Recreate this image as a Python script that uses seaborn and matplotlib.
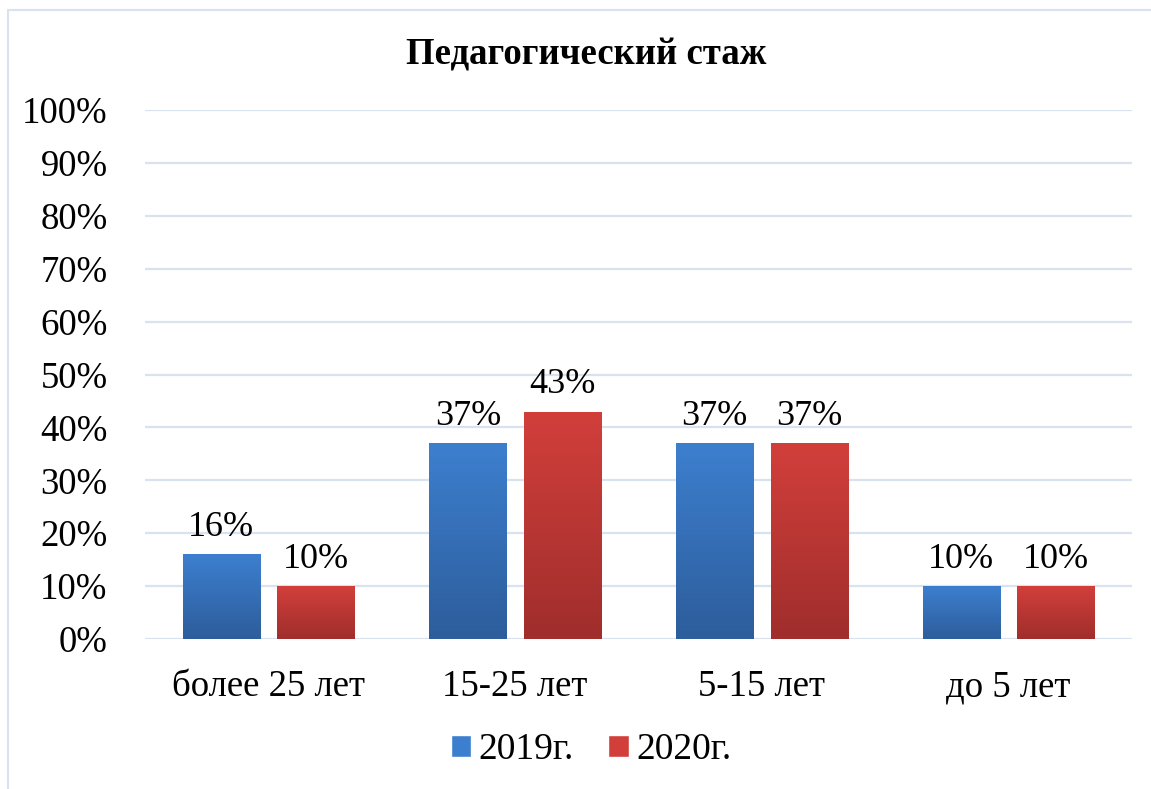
import numpy as np
import pandas as pd
import matplotlib
matplotlib.use("Agg")
import matplotlib.pyplot as plt
import seaborn as sns
from matplotlib.colors import LinearSegmentedColormap
from matplotlib.patches import Rectangle

categories = ["более 25 лет", "15-25 лет", "5-15 лет", "до 5 лет"]
years = ["2019г.", "2020г."]
values_2019 = [16, 37, 37, 10]
values_2020 = [10, 43, 37, 10]

df = pd.DataFrame({
    "Стаж": categories * 2,
    "Год": [years[0]] * 4 + [years[1]] * 4,
    "Доля": values_2019 + values_2020,
})

# top / bottom colours of the gradient fills
grad = {
    years[0]: ("#3d7fcf", "#2d5d9b"),
    years[1]: ("#d23f3b", "#9f2e2c"),
}

sns.set_style("white")
plt.rcParams["font.family"] = ["Liberation Serif", "DejaVu Serif"]
plt.rcParams["text.color"] = "black"
plt.rcParams["xtick.color"] = "black"
plt.rcParams["ytick.color"] = "black"

fig = plt.figure(figsize=(11.51, 7.89), dpi=100)
ax = fig.add_axes([145 / 1151, 1 - 639 / 789, (1132 - 145) / 1151, (639 - 110) / 789])

sns.barplot(data=df, x="Стаж", y="Доля", hue="Год", order=categories,
            hue_order=years, palette=[grad[y][0] for y in years],
            width=0.766, gap=0.185, ax=ax, legend=False)

ax.set_yticks(np.arange(0, 101, 10))
ax.set_yticklabels([f"{v}%" for v in range(0, 101, 10)])
ax.yaxis.grid(True, color="#d9e3f0", linewidth=1.6)
ax.set_axisbelow(True)
for s in ax.spines.values():
    s.set_visible(False)
ax.tick_params(axis="both", length=0, labelsize=26.5, labelcolor="black")
ax.tick_params(axis="y", pad=27)
ax.tick_params(axis="x", pad=22)
ax.set_xlabel("")
ax.set_ylabel("")

# gradient fills + labels
for cont, yr in zip(ax.containers, years):
    cmap = LinearSegmentedColormap.from_list(yr, [grad[yr][1], grad[yr][0]])
    for bar in cont:
        x0, w, h = bar.get_x(), bar.get_width(), bar.get_height()
        bar.set_facecolor("none")
        bar.set_edgecolor("none")
        img = ax.imshow(np.linspace(0, 1, 256).reshape(-1, 1), cmap=cmap,
                        extent=[x0, x0 + w, 0, h], origin="lower",
                        aspect="auto", zorder=2)
        img.set_clip_path(bar)
        ax.text(x0 + w / 2, h + 2.0, f"{h:.0f}%", ha="center", va="bottom",
                fontsize=26)
ax.set_xlim(-0.5, len(categories) - 0.5)
ax.set_ylim(0, 100)

fig.text(586 / 1151, 1 - 55 / 789, "Педагогический стаж", ha="center",
         va="center", fontsize=26.5, fontweight="bold")

# legend
handles = [Rectangle((0, 0), 1, 1, facecolor=grad[y][0]) for y in years]
fig.legend(handles, years, loc="center", bbox_to_anchor=(591 / 1151, 1 - 750 / 789),
           ncol=2, frameon=False, fontsize=27, handlelength=0.55, handleheight=0.55,
           handletextpad=0.2, columnspacing=0.9)

# outer chart border (only top/left visible)
fig.patches.append(Rectangle((8 / 1151, -0.1), 1.2, 1 - 10 / 789 + 0.1,
                             transform=fig.transFigure, fill=False,
                             edgecolor="#d9e3f0", linewidth=1.5))

fig.savefig("out.png", dpi=100)
